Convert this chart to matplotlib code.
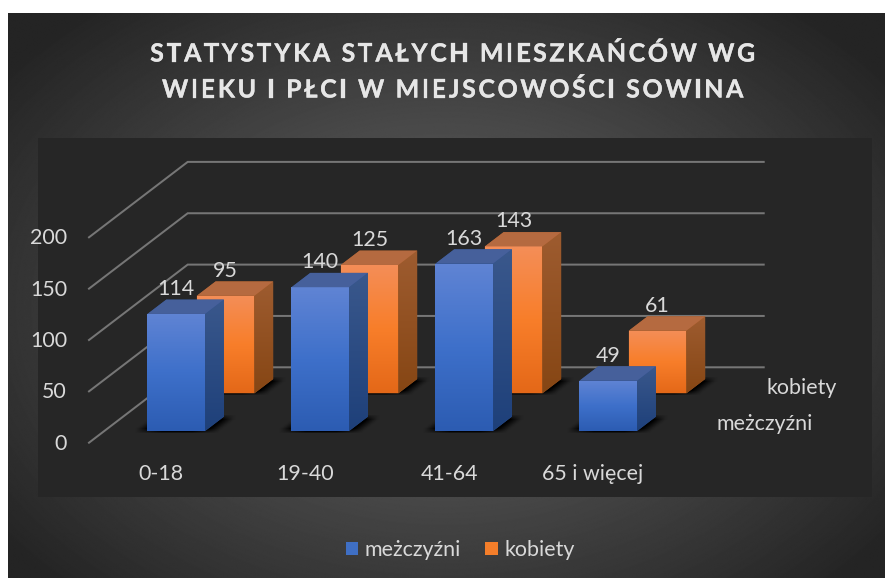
import matplotlib as mpl
mpl.use('Agg')
from matplotlib import pyplot as plt
from matplotlib import font_manager
from matplotlib import patheffects
from matplotlib.patches import Polygon, Rectangle, Patch
from matplotlib.path import Path
from matplotlib.text import Text
from matplotlib.transforms import IdentityTransform
import numpy as np

plt.rcParams['font.family'] = ['Lato', 'DejaVu Sans']

# data
categories = ['0-18', '19-40', '41-64', '65 i więcej']
men = [114, 140, 163, 49]
women = [95, 125, 143, 61]
series_names = ['meżczyźni', 'kobiety']
y_ticks = [0, 50, 100, 150, 200]
title_lines = ['STATYSTYKA STAŁYCH MIESZKAŃCÓW WG', 'WIEKU I PŁCI W MIEJSCOWOŚCI SOWINA']

W, H = 885, 578
TXT = '#d9d9d9'
FS = 15.4

# oblique projection of the chart box, in image pixels
X0, Y0 = 89.0, 442.7      # front left corner of the floor
CAT_W = 144.0
PX_PER_UNIT = 1.027
DEPTH_X, DEPTH_Y = 98.7, -75.4
BAR_W = 0.40              # share of a category
BAR_D = 0.19              # share of the whole depth


def proj(c, v, d):
    return (X0 + c * CAT_W + d * DEPTH_X, Y0 - v * PX_PER_UNIT + d * DEPTH_Y)


class SpacedText(Text):
    # matplotlib has no letter spacing, so the glyphs are placed one by one
    spacing = 0.0

    def draw(self, renderer):
        prop = self.get_fontproperties()
        font = font_manager.get_font(font_manager.findfont(prop))
        font.set_size(prop.get_size_in_points(), self.figure.dpi)
        s = self.get_text()
        adv = [font.load_char(ord(ch)).linearHoriAdvance / 65536 + self.spacing for ch in s]
        x, y = self.get_transform().transform(self.get_position())
        x -= sum(adv) / 2
        for ch, a in zip(s, adv):
            t = Text(x, y, ch, fontproperties=prop, color=self.get_color(), ha='left', va='center_baseline',
                     transform=IdentityTransform())
            t.set_figure(self.figure)
            t.set_path_effects([patheffects.withStroke(linewidth=0.2, foreground=self.get_color())])
            t.draw(renderer)
            x += a


def grad_poly(ax, pts, stops, z):
    pts = np.array(pts)
    n = 256
    pos = np.linspace(0, 1, n)
    fr = [s[0] for s in stops]
    img = np.zeros((n, 1, 3))
    for k in range(3):
        img[:, 0, k] = np.interp(pos, fr, [s[1][k] / 255 for s in stops])
    ext = (pts[:, 0].min(), pts[:, 0].max(), pts[:, 1].max(), pts[:, 1].min())
    # nearest: a one column image goes partly transparent under bilinear
    im = ax.imshow(img, extent=ext, origin='upper', aspect='auto', zorder=z, interpolation='nearest')
    im.set_clip_path(Polygon(pts, closed=True, transform=ax.transData))


fig = plt.figure(figsize=(W / 100, H / 100), dpi=100, facecolor='white')
ax = fig.add_axes([0, 0, 1, 1])
ax.axis('off')

# radial background
yy, xx = np.mgrid[0:H, 0:W]
r = np.sqrt(((xx - 440) / 560.0) ** 2 + ((yy - 300) / 400.0) ** 2)
bg = np.interp(r, [0, 0.25, 1.0], [92, 88, 36]) / 255
ax.imshow(bg, cmap='gray', vmin=0, vmax=1, extent=(8, W, H, 13), aspect='auto', zorder=0)
ax.add_patch(Rectangle((38, 138), 834, 359, fc='#262626', ec='none', zorder=1))

# grid lines
for v in y_ticks:
    a, b, c = proj(0, v, 0), proj(0, v, 1), proj(len(categories), v, 1)
    ax.plot([a[0], b[0], c[0]], [a[1], b[1], c[1]], color='#767676', lw=1.44, zorder=2,
            solid_joinstyle='miter')
    ax.text(67, a[1] + 1, str(v), color=TXT, fontsize=FS, ha='right', va='center', zorder=9)

# floor shadows
mask = np.zeros((H, W))
grid_pts = np.column_stack([xx.ravel() + 0.5, yy.ravel() + 0.5])
series = [(women, 0.655), (men, 0.155)]
for vals, d0 in series:
    for i in range(len(vals)):
        c0 = i + (1 - BAR_W) / 2
        foot = [proj(c0, 0, d0), proj(c0 + BAR_W, 0, d0), proj(c0 + BAR_W, 0, d0 + BAR_D), proj(c0, 0, d0 + BAR_D)]
        mask[Path(foot).contains_points(grid_pts).reshape(H, W)] = 1
for axis, size in ((1, 27), (0, 5)):
    mask = np.apply_along_axis(lambda m: np.convolve(m, np.ones(size) / size, mode='same'), axis, mask)
shadow = np.zeros((H, W, 4))
shadow[..., 3] = np.clip(mask * 2.4, 0, 1)
ax.imshow(shadow, extent=(0, W, H, 0), aspect='auto', zorder=3)

# bars
BLUE_FRONT = [(0, (96, 132, 212)), (0.5, (62, 112, 202)), (1, (44, 92, 178))]
BLUE_SIDE = [(0, (58, 88, 140)), (1, (30, 64, 122))]
BLUE_TOP = '#46609b'
BLUE_UNDER = '#2c4f8c'
ORANGE_FRONT = [(0, (244, 142, 88)), (0.5, (248, 126, 42)), (1, (228, 104, 24))]
ORANGE_SIDE = [(0, (158, 92, 48)), (1, (134, 70, 20))]
ORANGE_TOP = '#b56a40'
ORANGE_UNDER = '#a85a22'
looks = [(ORANGE_FRONT, ORANGE_SIDE, ORANGE_TOP, ORANGE_UNDER), (BLUE_FRONT, BLUE_SIDE, BLUE_TOP, BLUE_UNDER)]

z = 4
for (vals, d0), (front, side, top, under) in zip(series, looks):
    for i, v in enumerate(vals):
        c0 = i + (1 - BAR_W) / 2
        c1 = c0 + BAR_W
        d1 = d0 + BAR_D
        # solid outline under the faces so the grid does not show in the seams
        ax.add_patch(Polygon([proj(c0, 0, d0), proj(c1, 0, d0), proj(c1, 0, d1), proj(c1, v, d1),
                              proj(c0, v, d1), proj(c0, v, d0)],
                             closed=True, fc=under, ec='none', zorder=z))
        grad_poly(ax, [proj(c0, 0, d0), proj(c1, 0, d0), proj(c1, v, d0), proj(c0, v, d0)], front, z)
        grad_poly(ax, [proj(c1, 0, d0), proj(c1, 0, d1), proj(c1, v, d1), proj(c1, v, d0)], side, z)
        ax.add_patch(Polygon([proj(c0, v, d0), proj(c1, v, d0), proj(c1, v, d1), proj(c0, v, d1)],
                             closed=True, fc=top, ec='none', zorder=z))
        lx, ly = proj(c0 + BAR_W / 2, v, d0)
        ax.text(lx, ly - 25, str(v), color=TXT, fontsize=FS, ha='center', va='center', zorder=9)
        z += 0.01

# category and series labels
for i, cat in enumerate(categories):
    ax.text(proj(i + 0.5, 0, 0)[0], 474, cat, color=TXT, fontsize=FS, ha='center', va='center', zorder=9)
ax.text(717, 424, series_names[0], color=TXT, fontsize=FS, ha='left', va='center', zorder=9)
ax.text(767, 388, series_names[1], color=TXT, fontsize=FS, ha='left', va='center', zorder=9)

# title
for line, y in zip(title_lines, (52, 88)):
    t = SpacedText(454, y, line, color='#e6e6e6', fontsize=18, fontweight='bold', ha='center', va='center',
                   transform=ax.transData, zorder=9)
    t.spacing = 2.6
    ax.add_artist(t)

# legend
handles = [Patch(fc='#3f6fc4', ec='none'), Patch(fc='#f47e2a', ec='none')]
leg = ax.legend(handles, series_names, ncol=2, loc='center', bbox_to_anchor=(460, 550),
                bbox_transform=ax.transData, frameon=False, fontsize=FS, labelcolor=TXT,
                handlelength=0.6, handleheight=0.6, handletextpad=0.3, columnspacing=1.1)
leg.set_zorder(9)

ax.set_xlim(0, W)
ax.set_ylim(H, 0)

fig.savefig('out.png', dpi=100)
plt.close()
